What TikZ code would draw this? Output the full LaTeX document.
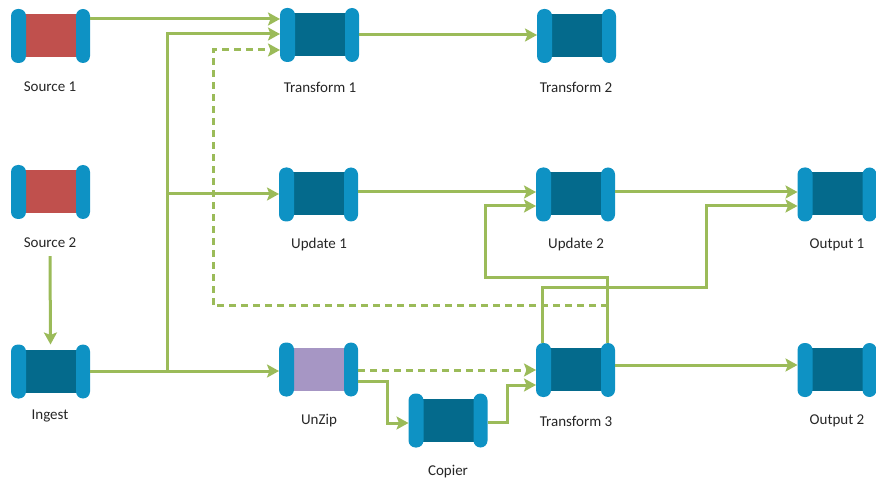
\documentclass[tikz,border=0pt]{standalone}
\usepackage{fontspec}
\setmainfont{Carlito}
\usetikzlibrary{arrows.meta}

\definecolor{flowgreen}{RGB}{155,187,89}
\definecolor{capblue}{RGB}{14,146,196}
\definecolor{bodyteal}{RGB}{4,106,140}
\definecolor{bodyred}{RGB}{192,80,77}
\definecolor{bodylilac}{RGB}{166,150,196}
\definecolor{labeltext}{RGB}{38,38,38}

\tikzset{
  spool/.style={
    minimum width=79pt, minimum height=54pt, inner sep=0pt, outer sep=0pt,
    path picture={
      \fill[#1] ([xshift=12pt,yshift=6pt]path picture bounding box.south west)
        rectangle ([xshift=-12pt,yshift=-5pt]path picture bounding box.north east);
      \fill[capblue, rounded corners=7pt] (path picture bounding box.south west) rectangle ++(15pt,54pt);
      \fill[capblue, rounded corners=7pt] (path picture bounding box.south east) rectangle ++(-14pt,54pt);
    }},
  spool/.default=bodyteal,
  caption/.style={font=\fontsize{15pt}{17pt}\selectfont, text=labeltext, inner sep=0pt},
  flow/.style={draw=flowgreen, line width=3pt,
    -{Stealth[length=12pt, width=13pt, inset=2.5pt]}},
  dashflow/.style={flow, dash pattern=on 7pt off 5pt},
}

\begin{document}
\begin{tikzpicture}[x=1pt, y=-1pt]
  \useasboundingbox (0,0) rectangle (876,481);

  % processing stages
  \node[spool=bodyred] (s1) at (50.5,36) {};
  \node[spool=bodyred] (s2) at (50.5,192) {};
  \node[spool] (ing) at (50.5,371.5) {};
  \node[spool] (t1) at (319.5,35) {};
  \node[spool] (t2) at (576.5,36) {};
  \node[spool] (u1) at (318.5,194.5) {};
  \node[spool] (u2) at (575.5,194.5) {};
  \node[spool] (o1) at (837,194.5) {};
  \node[spool=bodylilac] (unz) at (318.5,369.5) {};
  \node[spool] (cop) at (448,420.5) {};
  \node[spool] (t3) at (575.5,370) {};
  \node[spool] (o2) at (837,370) {};

  % captions
  \node[caption] (s1l) at (50,87) {Source 1};
  \node[caption] (s2l) at (50,243) {Source 2};
  \node[caption] (ingl) at (50,416) {Ingest};
  \node[caption] (t1l) at (320,87) {Transform 1};
  \node[caption] (t2l) at (576,87) {Transform 2};
  \node[caption] (u1l) at (319,245) {Update 1};
  \node[caption] (u2l) at (576,245) {Update 2};
  \node[caption] (o1l) at (837,245) {Output 1};
  \node[caption] (unzl) at (319,421) {UnZip};
  \node[caption] (copl) at (448,472) {Copier};
  \node[caption] (t3l) at (576,421) {Transform 3};
  \node[caption] (o2l) at (837,421) {Output 2};

  % dashed feedback routes
  \draw[dashflow] (t3.north -| 607,0) -- (607,306) -| (213,50) -- (t1.west |- 0,50);
  \draw[dashflow] (unz.east |- 0,370) -- (t3.west |- 0,370);

  % solid routes
  \draw[flow] (s1.east |- 0,19) -- (t1.west |- 0,19);
  \draw[flow] (ing.east |- 0,371) -- (167.5,371) |- (t1.west |- 0,34);
  \draw[flow] (ing.east |- 0,371) -- (167.5,371) |- (u1.west |- 0,194);
  \draw[flow] (ing.east |- 0,371) -- (unz.west |- 0,371);
  \draw[flow] ([yshift=-8pt]s2l.south) -- (ing.north);
  \draw[flow] (t1.east |- 0,35) -- (t2.west |- 0,35);
  \draw[flow] (u1.east |- 0,192) -- (u2.west |- 0,192);
  \draw[flow] (u2.east |- 0,192) -- (o1.west |- 0,192);
  \draw[flow] (t3.north -| 607,0) -- (607,278) -| (485,206) -- (u2.west |- 0,206);
  \draw[flow] (t3.north -| 542,0) -- (542,288) -| (706,206) -- (o1.west |- 0,206);
  \draw[flow] (unz.east |- 0,381) -| (387,423) -- (cop.west |- 0,423);
  \draw[flow] (cop.east |- 0,422) -| (507,385) -- (t3.west |- 0,385);
  \draw[flow] (t3.east |- 0,365) -- (o2.west |- 0,365);
\end{tikzpicture}
\end{document}
